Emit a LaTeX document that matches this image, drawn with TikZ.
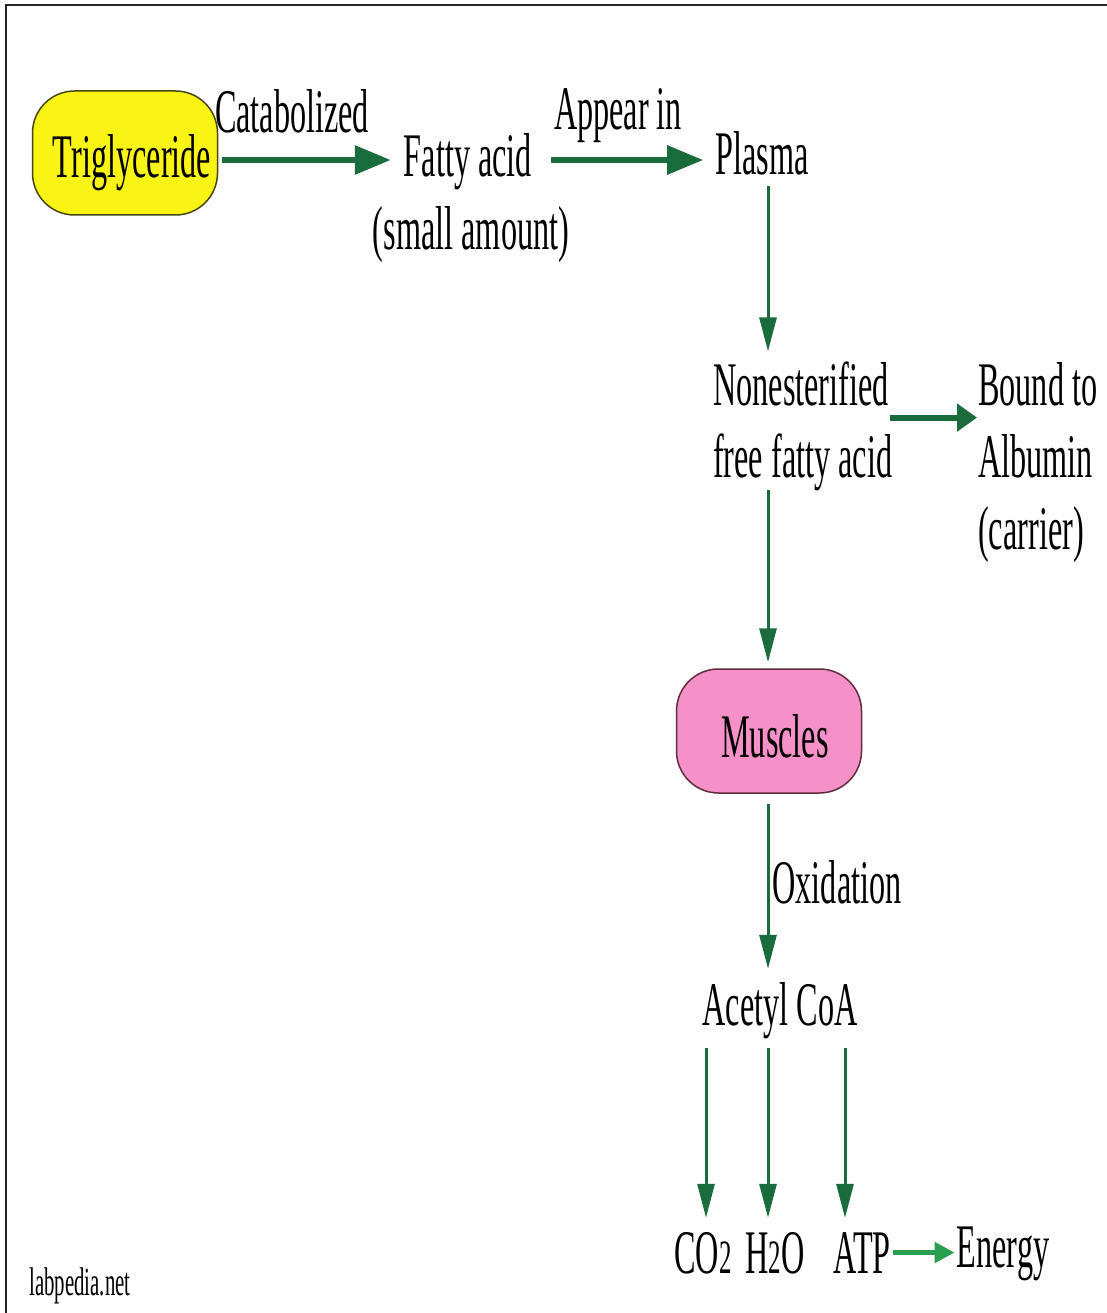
\documentclass[tikz,border=0pt]{standalone}
\usepackage{fontspec}
\setmainfont{Liberation Serif}
\usetikzlibrary{arrows.meta,calc}
\definecolor{agreen}{RGB}{26,108,60}
\definecolor{egreen}{RGB}{40,158,78}
\definecolor{tyellow}{RGB}{250,244,20}
\definecolor{mpink}{RGB}{245,145,200}
\definecolor{mborder}{RGB}{95,45,60}
\definecolor{yborder}{RGB}{70,70,20}
\newcommand\sq[1]{\scalebox{0.52}[1]{#1}}
\newcommand\sub[1]{{\fontsize{48}{48}\selectfont #1}}
\begin{document}
\begin{tikzpicture}[x=1pt,y=-1pt,
  txt/.style={inner sep=0pt, font=\fontsize{62}{72}\selectfont},
  thickarr/.style={draw=agreen, line width=6pt, -{Triangle[length=36pt,width=28pt,fill=agreen]}},
  shortarr/.style={draw=agreen, line width=6pt, -{Triangle[length=20pt,width=27pt,fill=agreen]}},
  thinarr/.style={draw=agreen, line width=3pt, -{Triangle[length=34pt,width=17pt,fill=agreen]}},
  energyarr/.style={draw=egreen, line width=5pt, -{Triangle[length=20pt,width=20pt,fill=egreen]}},
  pill/.style={txt, draw, line width=1.5pt, rounded corners=42pt, minimum width=185pt, minimum height=124pt}
]
\useasboundingbox (0,0) rectangle (1107,1313);
\fill[white] (0,0) rectangle (1107,1313);
\draw[line width=2.5pt, black!85] (6,1313) -- (6,5) -- (1107,5);

\node[pill, fill=tyellow, draw=yborder] (tri) at (125,153)
  {\hspace*{14pt}\raisebox{-25pt}[0pt][0pt]{\sq{Triglyceride}}};
\node[txt, anchor=base] (cat) at (292,133) {\sq{Catabolized}};
\node[txt, anchor=base] (fatty) at (468,177) {\sq{Fatty acid}};
\node[txt, anchor=base] (small) at (471,250) {\sq{(small amount)}};
\node[txt, anchor=base] (appear) at (618,130) {\sq{Appear in}};
\node[txt, anchor=base] (plasma) at (762,175) {\sq{Plasma}};
\node[txt, anchor=base west] (nefa) at (713,405) {\sq{\begin{tabular}[t]{@{}l@{}}Nonesterified\\free fatty acid\end{tabular}}};
\node[txt, anchor=base west] (bound) at (978,405) {\sq{\begin{tabular}[t]{@{}l@{}}Bound to\\Albumin\\(carrier)\end{tabular}}};
\node[pill, fill=mpink, draw=mborder] (mus) at (769,731)
  {\hspace*{12pt}\raisebox{-26pt}[0pt][0pt]{\sq{Muscles}}};
\node[txt, anchor=base] (oxid) at (837,903) {\sq{Oxidation}};
\node[txt, anchor=base] (acetyl) at (780,1025) {\sq{Acetyl CoA}};
\node[txt, anchor=base] (co2) at (703,1273) {\sq{CO\sub{2}}};
\node[txt, anchor=base] (h2o) at (775,1273) {\sq{H\sub{2}O}};
\node[txt, anchor=base] (atp) at (862,1273) {\sq{ATP}};
\node[txt, anchor=base] (energy) at (1003,1267) {\sq{Energy}};
\node[inner sep=0pt, font=\fontsize{40}{44}\selectfont, anchor=base] (lab) at (80,1295) {\sq{labpedia.net}};

\coordinate (colx) at (768,0);

\draw[thickarr] ($(tri.east)+(4,7)$) -- ($(fatty.west|-tri.east)+(-13,7)$);
\draw[thickarr] ($(fatty.east|-tri.east)+(19,7)$) -- ($(plasma.west|-tri.east)+(-12,7)$);
\draw[thinarr] ($(plasma.south-|colx)+(0,10)$) -- ($(nefa.north-|colx)+(0,-3)$);
\draw[shortarr] ($(nefa.east)+(-2,-9)$) -- ($(bound.west|-nefa.east)+(-1,-9)$);
\draw[thinarr] ($(nefa.south-|colx)+(0,-9)$) -- ($(mus.north-|colx)+(0,-6)$);
\draw[thinarr] ($(mus.south-|colx)+(0,10)$) -- ($(acetyl.north-|colx)+(0,-13)$);
\draw[thinarr] ($(acetyl.south-|co2.north)+(3,9)$) -- ($(co2.north)+(3,-14)$);
\draw[thinarr] ($(acetyl.south-|h2o.north)+(-7,9)$) -- ($(h2o.north)+(-7,-14)$);
\draw[thinarr] ($(acetyl.south-|atp.north)+(-17,9)$) -- ($(atp.north)+(-17,-14)$);
\draw[energyarr] ($(atp.east)+(2,0)$) -- ($(energy.west|-atp.east)+(-2,0)$);
\end{tikzpicture}
\end{document}
